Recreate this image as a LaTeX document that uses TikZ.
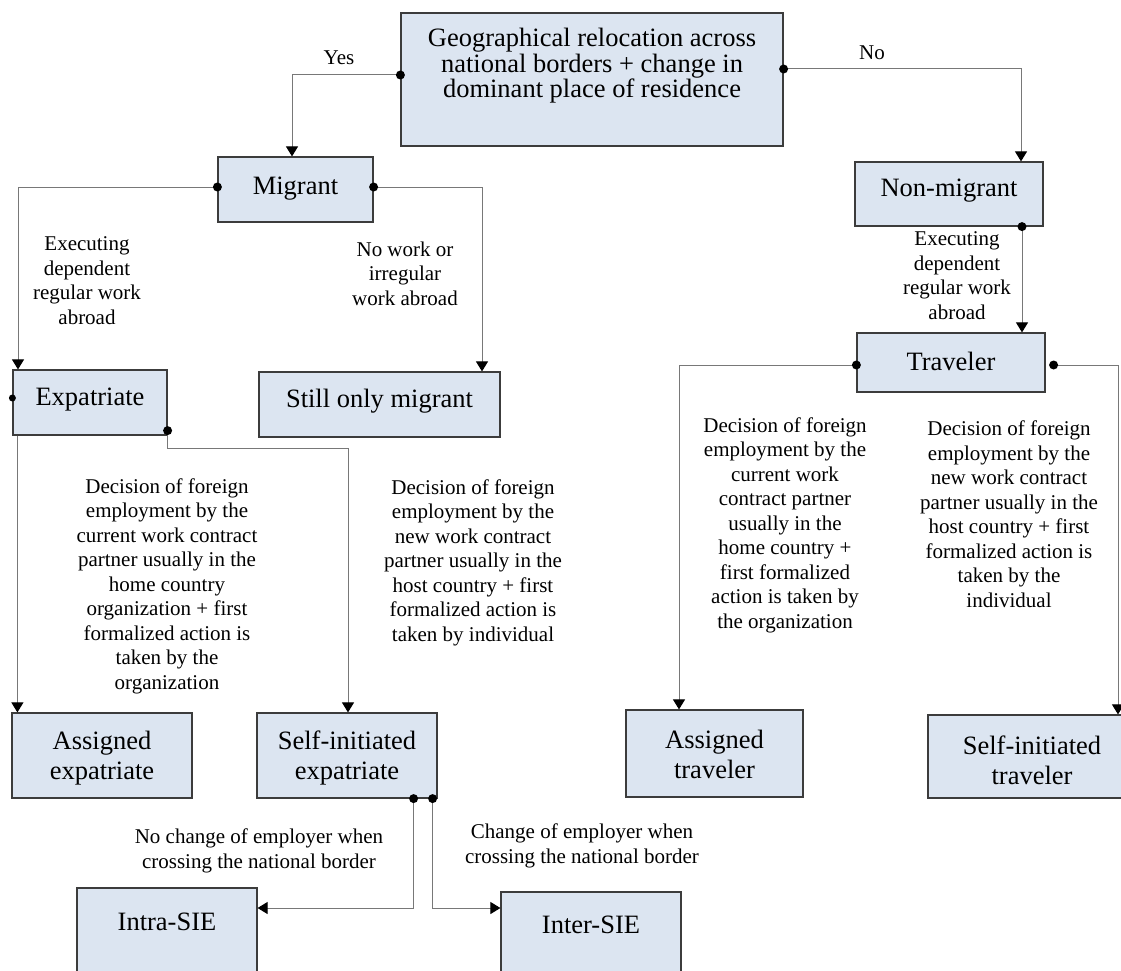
\documentclass[tikz,border=0pt]{standalone}
\usepackage{fontspec}
\setmainfont{Liberation Serif}
\usetikzlibrary{arrows.meta,calc}
\definecolor{boxfill}{RGB}{220,229,241}
\definecolor{boxline}{RGB}{60,60,60}
\definecolor{linegray}{RGB}{120,120,120}
\begin{document}
\begin{tikzpicture}[x=1pt,y=-1pt,
 box/.style={draw=boxline, line width=1.2pt, fill=boxfill, inner sep=0pt, anchor=center},
 boxtext/.style={font=\fontsize{26.5}{30.5}\selectfont, align=center, inner sep=0pt},
 lbl/.style={font=\fontsize{21}{24.5}\selectfont, align=center, inner sep=0pt},
 conn/.style={draw=linegray, line width=1pt, -{Triangle[width=12pt,length=10pt,color=black]}},
 dot/.style={circle, fill=black, inner sep=0pt, minimum size=9pt}]
\useasboundingbox (0,0) rectangle (1121,971);
\clip (0,0) rectangle (1121,971);
% boxes
\node[box, minimum width=382pt, minimum height=133pt] (top) at (592,79.5) {};
\node[boxtext, font=\fontsize{26.5}{25.5}\selectfont] (toptxt) at (592,66) {Geographical relocation across\\national borders + change in\\dominant place of residence};
\node[box, minimum width=155pt, minimum height=65pt] (mig) at (295.5,189.5) {};
\node[boxtext] (migtxt) at (295.5,189) {Migrant};
\node[box, minimum width=188pt, minimum height=64pt] (nm) at (949,194) {};
\node[boxtext] (nmtxt) at (949,191) {Non-migrant};
\node[box, minimum width=188pt, minimum height=59pt] (tr) at (951,362.5) {};
\node[boxtext] (trtxt) at (951,361) {Traveler};
\node[box, minimum width=154pt, minimum height=65pt] (exp) at (90,402.5) {};
\node[boxtext] (exptxt) at (90,400) {Expatriate};
\node[box, minimum width=241pt, minimum height=65pt] (still) at (379.5,404.5) {};
\node[boxtext] (stilltxt) at (379.5,401) {Still only migrant};
\node[box, minimum width=180pt, minimum height=85pt] (aex) at (102,755.5) {};
\node[boxtext] (aextxt) at (102,758) {Assigned\\expatriate};
\node[box, minimum width=180pt, minimum height=85pt] (sex) at (347,755.5) {};
\node[boxtext] (sextxt) at (347,758) {Self-initiated\\expatriate};
\node[box, minimum width=177pt, minimum height=87pt] (atr) at (714.5,753.5) {};
\node[boxtext] (atrtxt) at (714.5,754.5) {Assigned\\traveler};
\node[box, minimum width=208pt, minimum height=83pt] (str) at (1032,756.5) {};
\node[boxtext] (strtxt) at (1032,760.5) {Self-initiated\\traveler};
\node[box, minimum width=180pt, minimum height=92pt] (intra) at (167,934) {};
\node[boxtext] (intratxt) at (167,922) {Intra-SIE};
\node[box, minimum width=180pt, minimum height=88pt] (inter) at (591,936) {};
\node[boxtext] (intertxt) at (591,925) {Inter-SIE};
% connectors
\draw[conn] ([yshift=4.5pt]top.west) -| ([xshift=-3.5pt]mig.north);
\node[dot] (d1) at ([yshift=4.5pt]top.west) {};
\draw[conn] ([yshift=10.5pt]top.east) -| ([xshift=72pt]nm.north);
\node[dot] (d2) at ([yshift=10.5pt]top.east) {};
\draw[conn] ([yshift=2.5pt]mig.west) -| ([xshift=-72pt]exp.north);
\node[dot] (d3) at ([yshift=2.5pt]mig.west) {};
\draw[conn] ([yshift=2.5pt]mig.east) -| ([xshift=102.5pt]still.north);
\node[dot] (d4) at ([yshift=2.5pt]mig.east) {};
\draw[conn] ([xshift=73pt]nm.south) -- ([xshift=73pt]nm.south |- tr.north);
\node[dot] (d5) at ([xshift=73pt]nm.south) {};
\draw[conn] ([yshift=-2.5pt]tr.west) -| ([xshift=-35.5pt]atr.north);
\node[dot] (d6) at ([yshift=-2.5pt]tr.west) {};
\draw[conn] ([xshift=8pt,yshift=-2.5pt]tr.east) -| ([xshift=86pt]str.north);
\node[dot] (d7) at ([xshift=8pt,yshift=-2.5pt]tr.east) {};
\draw[conn] ([xshift=5pt]exp.south west) -- ([xshift=5pt]exp.south west |- aex.north);
\node[dot, minimum size=7pt] (d8) at ([yshift=4.5pt]exp.west) {};
\draw[conn] ([yshift=5pt]exp.south east) -- ++(0,18) -| ([xshift=1pt]sex.north);
\node[dot] (d9) at ([yshift=5pt]exp.south east) {};
\draw[conn] ([xshift=-24pt]sex.south east) |- ([yshift=26pt]intra.east);
\node[dot] (d10) at ([xshift=-24pt]sex.south east) {};
\draw[conn] ([xshift=-5pt]sex.south east) |- ([yshift=28pt]inter.west);
\node[dot] (d11) at ([xshift=-5pt]sex.south east) {};
% labels
\node[lbl] (lyes) at (339,58) {Yes};
\node[lbl] (lno) at (872,53) {No};
\node[lbl] (lmigl) at (87,280.5) {Executing\\dependent\\regular work\\abroad};
\node[lbl] (lmigr) at (405,273.5) {No work or\\irregular\\work abroad};
\node[lbl] (lnm) at (957,275.5) {Executing\\dependent\\regular work\\abroad};
\node[lbl] (lexpl) at (167,586) {Decision of foreign\\employment by the\\current work contract\\partner usually in the\\home country\\organization + first\\formalized action is\\taken by the\\organization};
\node[lbl] (lexpr) at (473,562.5) {Decision of foreign\\employment by the\\new work contract\\partner usually in the\\host country + first\\formalized action is\\taken by individual};
\node[lbl] (ltrl) at (785,525) {Decision of foreign\\employment by the\\current work\\contract partner\\usually in the\\home country +\\first formalized\\action is taken by\\the organization};
\node[lbl] (ltrr) at (1009,514) {Decision of foreign\\employment by the\\new work contract\\partner usually in the\\host country + first\\formalized action is\\taken by the\\individual};
\node[lbl] (lsiel) at (259,851) {No change of employer when\\crossing the national border};
\node[lbl] (lsier) at (582,846) {Change of employer when\\crossing the national border};
\end{tikzpicture}
\end{document}
